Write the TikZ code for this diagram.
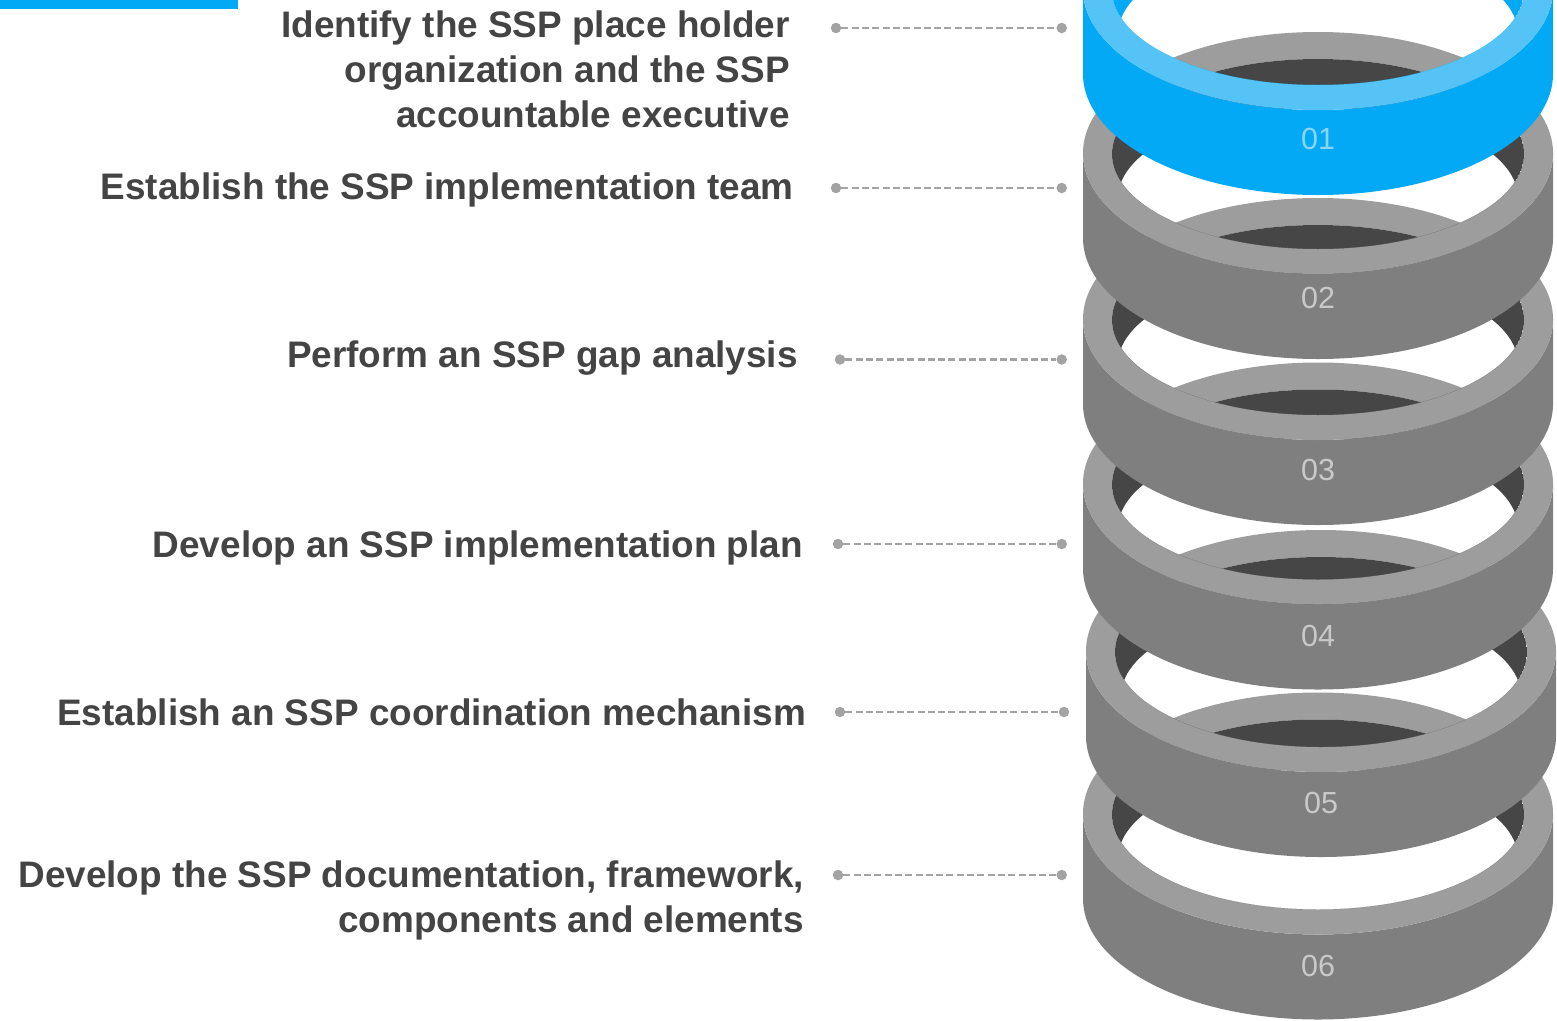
\documentclass[tikz,border=0pt]{standalone}
\usepackage{fontspec}
\setmainfont{Liberation Sans}
\definecolor{txt}{HTML}{444444}
\definecolor{conn}{HTML}{A3A3A3}
\definecolor{gtop}{HTML}{9D9D9D}
\definecolor{gwall}{HTML}{7F7F7F}
\definecolor{gback}{HTML}{464646}
\definecolor{btop}{HTML}{55C3F6}
\definecolor{bwall}{HTML}{03A9F4}
\definecolor{glab}{HTML}{C9C9C9}
\definecolor{blab}{HTML}{8DD5F7}
\newcommand\myring[5]{%
  \begin{scope}[shift={(#1,#2)}]
    \fill[#4] (-235,0) -- (-235,85)
      arc[start angle=180, end angle=0, x radius=235, y radius=121]
      -- (235,0)
      arc[start angle=0, end angle=180, x radius=235, y radius=121] -- cycle;
    \fill[#3, even odd rule] (0,0) ellipse[x radius=235, y radius=121]
      (0,1) ellipse[x radius=206, y radius=95];
    \begin{scope}
      \clip (0,1) ellipse[x radius=206, y radius=95];
      \fill[#5, even odd rule] (0,1) ellipse[x radius=206, y radius=95]
        (0,45) ellipse[x radius=200, y radius=90];
    \end{scope}
  \end{scope}}
\tikzset{
  lbl/.style={anchor=base east, inner sep=0pt, text=txt,
    font=\fontsize{36.9}{45}\selectfont\bfseries},
  ringnum/.style={inner sep=0pt, font=\fontsize{30.5}{36}\selectfont},
  dotn/.style={circle, fill=conn, inner sep=0pt, minimum size=10.5pt},
  conline/.style={draw=conn, line width=2.5pt, dash pattern=on 7pt off 3.3pt}
}
\begin{document}
\begin{tikzpicture}[x=1pt, y=-1pt]
\useasboundingbox (0,0) rectangle (1557,1020);
\clip (0,0) rectangle (1557,1020);
\fill[bwall] (0,0) rectangle (238,8.7);
% rings, bottom first
\myring{1318}{813.5}{gtop}{gwall}{gback}
\myring{1321}{651}{gtop}{gwall}{gback}
\myring{1318}{483.5}{gtop}{gwall}{gback}
\myring{1318}{319}{gtop}{gwall}{gback}
\myring{1318}{153}{gtop}{gwall}{gback}
\myring{1318}{-11}{btop}{bwall}{bwall}
\node[ringnum, text=blab] (n1) at (1318,139) {01};
\node[ringnum, text=glab] (n2) at (1318,298) {02};
\node[ringnum, text=glab] (n3) at (1318,470) {03};
\node[ringnum, text=glab] (n4) at (1318,636) {04};
\node[ringnum, text=glab] (n5) at (1321,803) {05};
\node[ringnum, text=glab] (n6) at (1318,966) {06};
% texts
\node[lbl] (t1a) at (790,37) {Identify the SSP place holder};
\node[lbl] (t1b) at (790,82) {organization and the SSP};
\node[lbl] (t1c) at (790,127) {accountable executive};
\node[lbl] (t2) at (794,199) {Establish the SSP implementation team};
\node[lbl] (t3) at (798,367) {Perform an SSP gap analysis};
\node[lbl] (t4) at (803,557) {Develop an SSP implementation plan};
\node[lbl] (t5) at (806,725) {Establish an SSP coordination mechanism};
\node[lbl] (t6a) at (804,887) {Develop the SSP documentation, framework,};
\node[lbl] (t6b) at (804,932) {components and elements};
% connectors
\node[dotn] (l1) at (836,28) {};
\node[dotn] (r1) at (1061.7,28) {};
\node[dotn] (l2) at (836,188) {};
\node[dotn] (r2) at (1061.7,188) {};
\node[dotn] (l3) at (840,359.5) {};
\node[dotn] (r3) at (1061.7,359.5) {};
\node[dotn] (l4) at (838,544) {};
\node[dotn] (r4) at (1061.7,544) {};
\node[dotn] (l5) at (840,712) {};
\node[dotn] (r5) at (1064,712) {};
\node[dotn] (l6) at (838,875) {};
\node[dotn] (r6) at (1061.7,875) {};
\foreach \i in {1,...,6} \draw[conline] (l\i) -- (r\i);
\end{tikzpicture}
\end{document}
